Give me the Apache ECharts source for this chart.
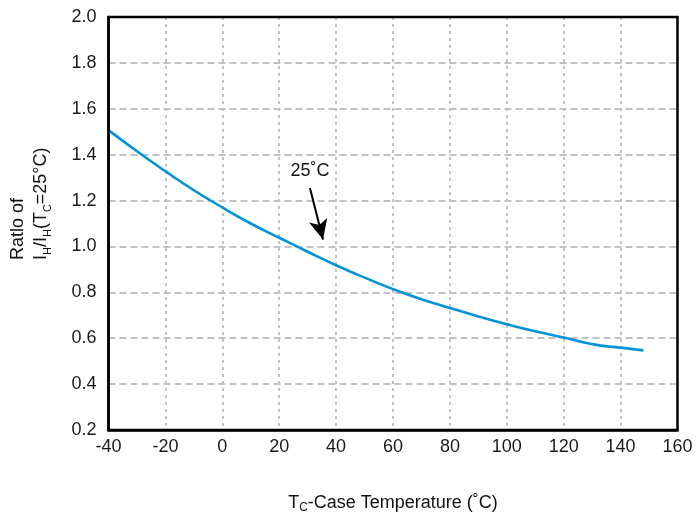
<!DOCTYPE html>
<html>
<head>
<meta charset="utf-8">
<script src="https://cdn.jsdelivr.net/npm/echarts@6/dist/echarts.min.js"></script>
<style>
html,body{margin:0;padding:0;background:#fff;}
#chart{width:698px;height:519px;}
</style>
</head>
<body>
<div id="chart"></div>
<script>
// Data
var temperatures = [-40, -30, -20, -10, 0, 10, 20, 30, 40, 50, 60, 70, 80, 90, 100, 110, 120, 131, 140, 148];
var ratios = [1.507, 1.415, 1.328, 1.245, 1.170, 1.100, 1.038, 0.977, 0.918, 0.864, 0.814, 0.770, 0.732, 0.695, 0.661, 0.630, 0.603, 0.572, 0.559, 0.547];
var xTicks = [-40, -20, 0, 20, 40, 60, 80, 100, 120, 140, 160];
var yTicks = [0.2, 0.4, 0.6, 0.8, 1.0, 1.2, 1.4, 1.6, 1.8, 2.0];
var annotationText = ['25˚C'];
var annotationLabelAt = [30.8, 1.33];
var arrowFrom = [30.8, 1.255];
var arrowTo = [35.4, 1.03];

var FONT = 'Arial, "Liberation Sans", sans-serif';
var seriesData = temperatures.map(function (t, i) { return [t, ratios[i]]; });

var G = { left: 108.5, right: 20.5, top: 17, bottom: 89 };
var W = 698, H = 519;

var chart = echarts.init(document.getElementById('chart'));
chart.setOption({
  animation: false,
  backgroundColor: '#ffffff',
  grid: { left: G.left, right: G.right, top: G.top, bottom: G.bottom, show: false },
  xAxis: {
    type: 'value',
    min: xTicks[0], max: xTicks[xTicks.length - 1], interval: 20,
    axisLine: { show: true, onZero: false, lineStyle: { color: '#000', width: 2.5 } },
    axisTick: { show: false },
    axisLabel: { color: '#1a1a1a', fontSize: 18, fontFamily: FONT, margin: 8 },
    splitLine: { show: true, showMinLine: false, showMaxLine: false, lineStyle: { color: '#c2c2c2', width: 2, type: [3, 4] } },
    name: '{m|T}{s|C}{m|-Case Temperature (˚C)}',
    nameLocation: 'middle',
    nameGap: 62,
    nameTextStyle: {
      fontFamily: FONT, color: '#111',
      rich: {
        m: { fontSize: 18, fontFamily: FONT, color: '#111', lineHeight: 22 },
        s: { fontSize: 12, fontFamily: FONT, color: '#111', lineHeight: 20, verticalAlign: 'bottom' }
      }
    }
  },
  yAxis: {
    type: 'value',
    min: yTicks[0], max: yTicks[yTicks.length - 1], interval: 0.2,
    axisLine: { show: true, onZero: false, lineStyle: { color: '#000', width: 2.5 } },
    axisTick: { show: false },
    axisLabel: {
      color: '#1a1a1a', fontSize: 18, fontFamily: FONT, margin: 12,
      formatter: function (v) { return v.toFixed(1); }
    },
    splitLine: { show: true, showMinLine: false, showMaxLine: false, lineStyle: { color: '#c2c2c2', width: 2, type: [7, 4] } }
  },
  graphic: [{
    type: 'rect',
    z: 100,
    silent: true,
    shape: { x: G.left, y: G.top, width: W - G.left - G.right, height: H - G.top - G.bottom },
    style: { fill: 'none', stroke: '#000', lineWidth: 2.5 }
  }, {
    type: 'text',
    x: 30, y: 260,
    rotation: Math.PI / 2,
    style: {
      text: '{m|Ratlo of}\n{m|I}{s|H}{m|/I}{s|H}{m|(T}{s|C}{m|=25°C)}',
      align: 'left',
      verticalAlign: 'middle',
      fill: '#111',
      font: '18px ' + FONT,
      rich: {
        m: { fontSize: 18, fontFamily: FONT, fill: '#111', lineHeight: 23 },
        s: { fontSize: 11, fontFamily: FONT, fill: '#111', lineHeight: 22, verticalAlign: 'bottom' }
      }
    }
  }],
  series: [{
    type: 'line',
    data: seriesData,
    smooth: true,
    showSymbol: false,
    lineStyle: { color: '#0093d8', width: 2.6 },
    itemStyle: { color: '#0093d8' },
    markLine: {
      silent: true,
      symbol: ['none', 'arrow'],
      symbolSize: [14, 20],
      label: { show: false },
      lineStyle: { color: '#000', width: 2, type: 'solid' },
      emphasis: { disabled: true },
      data: [[{ coord: arrowFrom }, { coord: arrowTo }]]
    },
    markPoint: {
      silent: true,
      symbol: 'circle',
      symbolSize: 0,
      label: {
        show: true, position: 'inside', color: '#111',
        fontSize: 18, fontFamily: FONT,
        formatter: function () { return annotationText[0]; }
      },
      data: [{ coord: annotationLabelAt }]
    }
  }]
});
</script>
</body>
</html>
